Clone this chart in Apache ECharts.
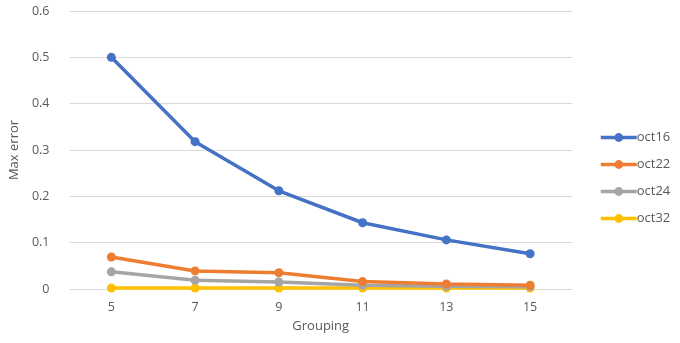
<!DOCTYPE html>
<html><head><meta charset="utf-8">
<script src="https://cdn.jsdelivr.net/npm/echarts@6/dist/echarts.min.js"></script>
<style>html,body{margin:0;padding:0;background:#fff}#c{width:680px;height:343px}</style>
</head><body><div id="c"></div>
<script>
var categories = ['5','7','9','11','13','15'];
var oct16 = [0.5, 0.318, 0.212, 0.143, 0.106, 0.076];
var oct22 = [0.069, 0.039, 0.035, 0.016, 0.011, 0.008];
var oct24 = [0.037, 0.019, 0.015, 0.008, 0.006, 0.005];
var oct32 = [0.002, 0.002, 0.002, 0.002, 0.002, 0.002];
var seriesNames = ['oct16','oct22','oct24','oct32'];
var colors = ['#4472C4','#ED7D31','#A5A5A5','#FFC000'];
var dataSets = [oct16, oct22, oct24, oct32];
var font = 'Open Sans';
var chart = echarts.init(document.getElementById('c'));
chart.setOption({
  animation:false,
  color: colors,
  textStyle:{fontFamily:font},
  grid:{left:64, right:108, top:11, bottom:54},
  legend:{orient:'vertical', left:594, top:126, itemGap:14, itemWidth:36, itemHeight:11,
    textStyle:{color:'#595959', fontSize:13, fontFamily:font, padding:[0,0,0,-5]},
    data: seriesNames.map(function(n,i){return {name:n, lineStyle:{width:3.5}};})},
  xAxis:{type:'category', data:categories, boundaryGap:true,
    name:'Grouping', nameLocation:'middle', nameGap:31,
    nameTextStyle:{color:'#595959', fontSize:13},
    axisLine:{show:false}, axisTick:{show:false},
    axisLabel:{color:'#595959', fontSize:12.5, margin:12}},
  yAxis:{type:'value', min:0, max:0.6, interval:0.1,
    name:'Max error', nameLocation:'middle', nameGap:30,
    nameTextStyle:{color:'#595959', fontSize:13},
    axisLabel:{color:'#595959', fontSize:12.5, margin:20, formatter:function(v){return v===0?'0':v.toFixed(1);}},
    splitLine:{lineStyle:{color:'#D9D9D9', width:1}}},
  series: seriesNames.map(function(n,i){return {
    name:n, type:'line', data:dataSets[i], symbol:'circle', symbolSize:9,
    lineStyle:{width:3.5, color:colors[i]}, itemStyle:{color:colors[i]}, z: 10-i
  };})
});
</script></body></html>
